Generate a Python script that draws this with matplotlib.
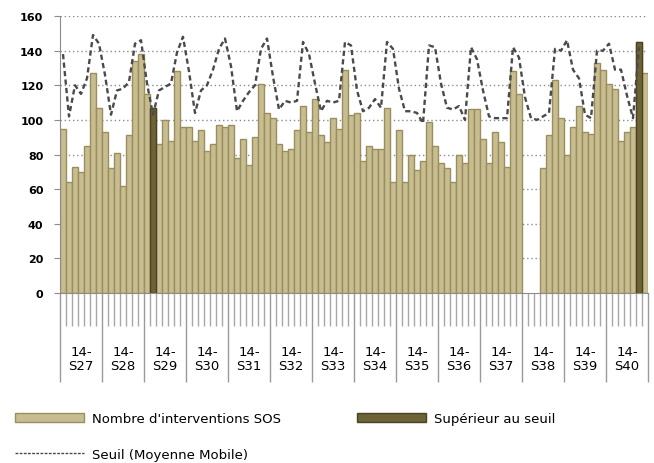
import numpy as np
import matplotlib
matplotlib.use("Agg")
import matplotlib.pyplot as plt
from matplotlib.patches import Patch
from matplotlib.lines import Line2D

# Weeks (7 days each)
weeks = ["S27", "S28", "S29", "S30", "S31", "S32", "S33",
         "S34", "S35", "S36", "S37", "S38", "S39", "S40"]

# Daily number of SOS interventions (nan = no data)
nan = np.nan
interventions = [95, 64, 73, 70, 85, 127, 107,
                 93, 72, 81, 62, 91, 134, 138,
                 115, 107, 86, 100, 88, 128, 96,
                 96, 88, 94, 82, 86, 97, 96,
                 97, 78, 89, 74, 90, 121, 104,
                 101, 86, 82, 83, 94, 108, 93,
                 112, 91, 87, 101, 95, 129, 103,
                 104, 76, 85, 83, 83, 107, 64,
                 94, 64, 80, 71, 76, 99, 85,
                 75, 72, 64, 80, 75, 106, 106,
                 89, 75, 93, 87, 73, 128, 115,
                 nan, nan, nan, 72, 91, 123, 101,
                 80, 96, 108, 93, 92, 133, 129,
                 121, 118, 88, 93, 96, 145, 127]

# Days above the threshold
above_days = [15, 96]

# Threshold (moving average)
seuil = [138, 102, 120, 115, 124, 149, 144,
         126, 103, 117, 118, 122, 144, 146,
         121, 103, 117, 119, 121, 139, 148,
         128, 104, 117, 120, 129, 141, 147,
         131, 105, 111, 116, 120, 141, 147,
         125, 106, 111, 110, 111, 145, 138,
         121, 105, 111, 110, 111, 145, 143,
         117, 105, 107, 112, 107, 145, 141,
         118, 105, 105, 104, 98, 143, 142,
         121, 107, 106, 108, 100, 142, 135,
         117, 102, 101, 101, 101, 142, 136,
         113, 101, 100, 102, 104, 141, 140,
         146, 129, 124, 103, 101, 140, 140,
         144, 129, 129, 114, 101, 142, nan]

light = "#c8bd91"
light_edge = "#9a8e5c"
dark = "#6e6336"
dark_edge = "#4a4224"

n = len(interventions)
x = np.arange(n)
vals = np.array(interventions, dtype=float)

fig = plt.figure(figsize=(6.54, 4.64), dpi=100)
ax = fig.add_axes([60 / 654, 170 / 464, 588 / 654, 277 / 464])

# gridlines behind bars
for v in range(20, 161, 20):
    ax.axhline(v, color="#8c8c8c", lw=1, ls=(0, (1, 2)), zorder=0)

ax.bar(x, vals, width=1.0, color=light, edgecolor=light_edge, linewidth=1, zorder=2)
dark_vals = [vals[i] for i in above_days]
ax.bar(above_days, dark_vals, width=1.0, color=dark, edgecolor=dark_edge, linewidth=1, zorder=3)

ax.plot(x, seuil, color="#4a4a4a", lw=1.7, ls=(0, (2.2, 1.4)), zorder=4)

ax.set_xlim(-0.5, n - 0.5)
ax.set_ylim(0, 160)
ax.set_yticks(range(0, 161, 20))
ax.tick_params(axis="y", length=4, color="#8c8c8c", labelsize=8, pad=8)
for lab in ax.get_yticklabels():
    lab.set_fontweight("bold")

# day ticks (minor) and week separators (major)
ax.set_xticks(np.arange(-0.5, n, 7))
ax.set_xticklabels([])
ax.set_xticks(np.arange(-0.5, n, 1), minor=True)
ax.tick_params(axis="x", which="major", length=64, color="#9a9a9a", width=1)
ax.tick_params(axis="x", which="minor", length=24, color="#a8a8a8", width=1)

for k, w in enumerate(weeks):
    ax.text(7 * k + 3, -0.235, "14-\n" + w, transform=ax.get_xaxis_transform(),
            ha="center", va="center", fontsize=9.5, linespacing=1.1)

for s in ["top", "right"]:
    ax.spines[s].set_visible(False)
ax.spines["left"].set_color("#8c8c8c")
ax.spines["bottom"].set_color("#8c8c8c")

# legend
handles = [Patch(facecolor=light, edgecolor=light_edge, label="Nombre d'interventions SOS"),
           Line2D([], [], color="#4a4a4a", lw=1, ls=(0, (2, 1)), label="Seuil (Moyenne Mobile)"),
           Patch(facecolor=dark, edgecolor=dark_edge, label="Supérieur au seuil")]
fig.legend(handles=handles, ncol=2, loc="upper left", bbox_to_anchor=(0.005, 0.135),
           frameon=False, fontsize=9.5, handlelength=5.2, handleheight=0.6,
           columnspacing=5.8, labelspacing=1.7, handletextpad=0.6)

fig.savefig("out.png", dpi=100)
